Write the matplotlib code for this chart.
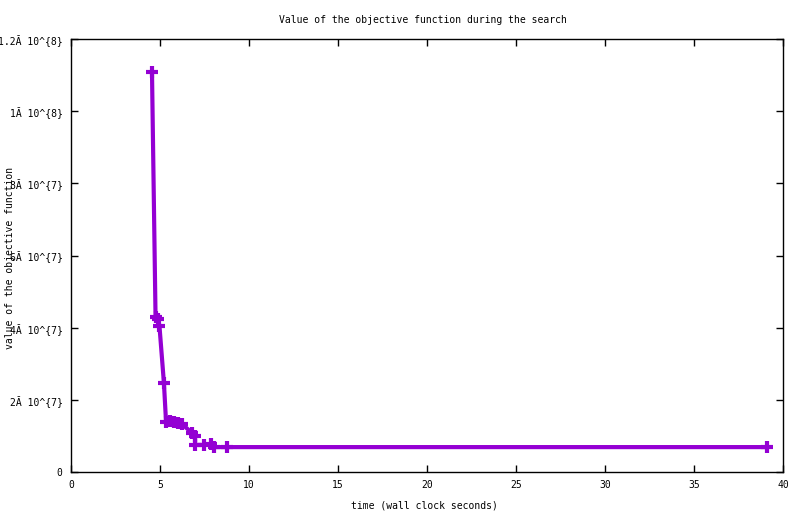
import matplotlib
matplotlib.use("Agg")
import matplotlib.pyplot as plt

# objective value vs wall clock time
time_s = [4.55, 4.75, 4.89, 4.97, 5.22, 5.34, 5.56, 5.79, 6.01, 6.24,
          6.80, 6.97, 6.97, 7.47, 7.87, 8.03, 8.74, 39.1]
objective = [1.108e8, 4.29e7, 4.24e7, 4.04e7, 2.47e7, 1.385e7, 1.41e7, 1.385e7,
             1.36e7, 1.33e7, 1.08e7, 1.0e7, 7.5e6, 7.5e6, 7.76e6, 6.9e6, 6.9e6, 6.9e6]

yticks = [0, 2e7, 4e7, 6e7, 8e7, 1e8, 1.2e8]
ytick_labels = ["0", "2Ă 10^{7}", "4Ă 10^{7}", "6Ă 10^{7}", "8Ă 10^{7}",
                "1Ă 10^{8}", "1.2Ă 10^{8}"]
xticks = [0, 5, 10, 15, 20, 25, 30, 35, 40]

plt.rcParams['font.family'] = ['DejaVu Sans Mono']
plt.rcParams['font.size'] = 7

fig = plt.figure(figsize=(8, 5.14), dpi=100)
ax = fig.add_axes([71 / 800, 1 - 472 / 514, 712 / 800, 433 / 514])

ax.plot(time_s, objective, color='#9400D3', linewidth=3,
        marker='+', markersize=9, markeredgewidth=3)

ax.set_xlim(0, 40)
ax.set_ylim(0, 1.2e8)
ax.set_xticks(xticks)
ax.set_xticklabels([str(t) for t in xticks])
ax.set_yticks(yticks)
ax.set_yticklabels(ytick_labels)
ax.tick_params(direction='in', top=True, right=True, length=5, width=1, pad=6)
for s in ax.spines.values():
    s.set_linewidth(1)

fig.text(423 / 800, 1 - 20 / 514, "Value of the objective function during the search",
         ha='center', va='center')
fig.text(424 / 800, 1 - 505 / 514, "time (wall clock seconds)", ha='center', va='center')
fig.text(10 / 800, 1 - 258 / 514, "value of the objective function",
         rotation=90, ha='center', va='center')

fig.savefig("out.png", dpi=100)
